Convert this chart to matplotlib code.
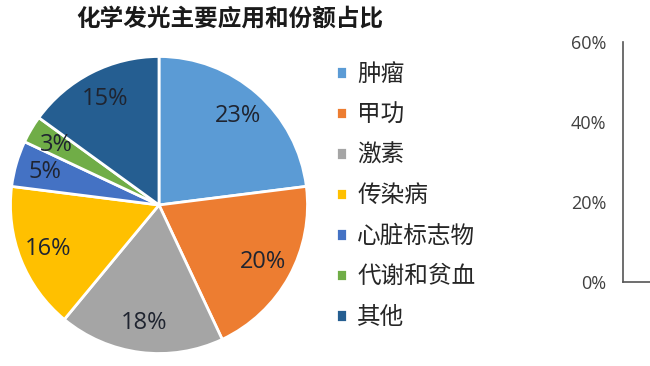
import matplotlib.pyplot as plt
from matplotlib.ticker import PercentFormatter

plt.rcParams['font.family'] = ['Noto Sans CJK SC', 'DejaVu Sans']

# Datos del gráfico
categorias = ['肿瘤', '甲功', '激素', '传染病', '心脏标志物', '代谢和贫血', '其他']
valores = [23, 20, 18, 16, 5, 3, 15]
colores = ['#5B9BD5', '#ED7D31', '#A5A5A5', '#FFC000', '#4472C4', '#70AD47', '#255E91']
ticks_derecha = [0, 0.2, 0.4, 0.6]

fig = plt.figure(figsize=(6.5, 3.66), dpi=100)

# Pastel
ax = fig.add_axes([9 / 650, 11 / 366, 300 / 650, 300 / 366])
wedges, textos, pct = ax.pie(valores, colors=colores, startangle=90, counterclock=False,
                             autopct='%d%%', pctdistance=0.8, radius=1,
                             wedgeprops=dict(edgecolor='white', linewidth=2),
                             textprops=dict(fontsize=17, color='#1f2430', family=['Open Sans']))
ax.set_xlim(-1.01, 1.01)
ax.set_ylim(-1.01, 1.01)
ax.set_aspect('equal')

# Título
fig.text(230 / 650, 1 - 19 / 366, '化学发光主要应用和份额占比', ha='center', va='center',
         fontsize=17, fontweight='bold', color='#1a1a1a')

# Leyenda
fig.legend(wedges, categorias, loc='upper left', bbox_to_anchor=(336 / 650, 1 - 63 / 366),
           frameon=False, fontsize=17, handlelength=0.45, handleheight=0.45,
           handletextpad=0.45, labelspacing=0.74, borderpad=0, borderaxespad=0,
           labelcolor='#262626')

# Eje parcial a la derecha
ax2 = fig.add_axes([623 / 650, 1 - 282 / 366, 0.06, (282 - 42) / 366])
ax2.set_ylim(0, 0.6)
ax2.set_yticks(ticks_derecha)
ax2.yaxis.set_major_formatter(PercentFormatter(1.0, decimals=0))
ax2.tick_params(axis='y', length=0, pad=12, labelsize=13)
for t in ax2.get_yticklabels():
    t.set_family(['Open Sans'])
    t.set_color('#404040')
ax2.set_xticks([])
ax2.spines['top'].set_visible(False)
ax2.spines['right'].set_visible(False)
for s in ['left', 'bottom']:
    ax2.spines[s].set_color('#555555')
    ax2.spines[s].set_linewidth(1.2)

plt.savefig('out.png', dpi=100)
